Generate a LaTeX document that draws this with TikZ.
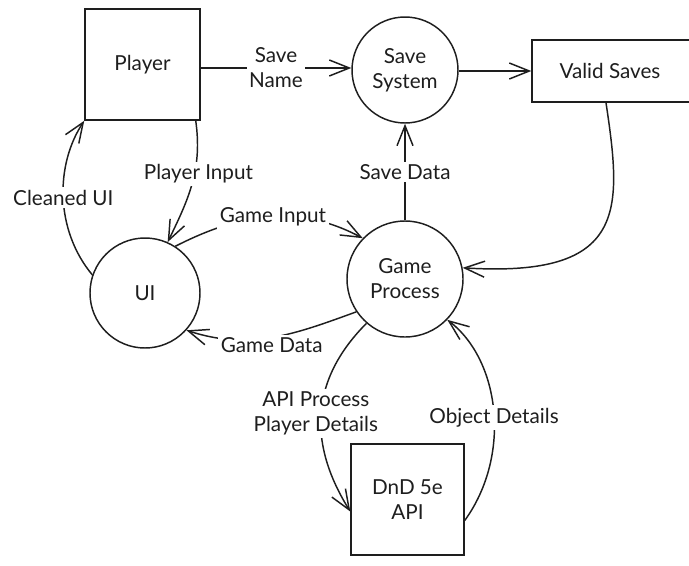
\documentclass[tikz,border=0pt]{standalone}
\usepackage{fontspec}
\setmainfont{Lato}
\usetikzlibrary{arrows.meta,calc}
\definecolor{ink}{HTML}{1E1E1E}
\def\lw{1.1pt}

\tikzset{
  shp/.style={draw=ink, line width=\lw, text=ink, align=center, inner sep=0pt,
    font=\fontsize{15.5}{18.75}\selectfont},
  ent/.style={shp, rectangle},
  proc/.style={shp, circle},
  flow/.style={draw=ink, line width=\lw, -{Straight Barb[length=15pt,width=12pt,line width=\lw]}},
  lbl/.style={fill=white, text=ink, align=center, inner sep=2pt,
    font=\fontsize{15.5}{18.75}\selectfont}
}

\begin{document}
\begin{tikzpicture}[x=0.75pt,y=-0.75pt]

% page is 689 x 565 px, y runs downwards
\useasboundingbox (0,0) rectangle (689,565);

%the external entities
\node[ent, minimum width=86.25pt, minimum height=83.25pt] (player) at (142.5,64.5) {Player};
\node[ent, minimum width=123pt, minimum height=46.5pt] (valid) at (614,71) {\hspace*{-6pt}Valid Saves};
\node[ent, minimum width=84.75pt, minimum height=83.25pt] (api) at (407.5,499.5) {DnD 5e\\API};

%the processes
\node[proc, minimum size=79.5pt] (savesys) at (405,70) {Save\\System};
\node[proc, minimum size=82.5pt] (ui) at (145,293) {UI};
\node[proc, minimum size=87pt] (game) at (405,279) {Game\\Process};

%save path
\draw[flow] (player.east |- 0,68) -- node[lbl] {Save\\Name} (savesys.west |- 0,68);
\draw[flow] (savesys.east |- 0,71) -- (valid.west |- 0,71);
\draw[flow] ($(valid.south)+(-8,0)$) .. controls (622,210) and (628,278) .. (game.11);
\draw[flow] (game.north) -- node[lbl] {Save Data} (savesys.south);

%player and ui
\draw[flow] ($(player.south east)+(-5,0)$) to[out=-82,in=64] node[lbl, pos=0.42, xshift=3pt] {Player Input} (ui.66);
\draw[flow] (ui.161) .. controls (55,230) and (55,165) .. node[lbl] {Cleaned UI} (player.south west);

%ui and game
\draw[flow] (ui.57) to[out=27,in=152] node[lbl, pos=0.52] {Game Input} (game.136);
\draw[flow] (game.214) to[out=200,in=-18] node[lbl, pos=0.5, yshift=-6pt] {Game Data} (ui.-42);

%game and api
\draw[flow] (game.229) .. controls (305,385) and (312,450) .. node[lbl, pos=0.48, xshift=-4pt] {API Process\\Player Details} ($(api.west)+(0,12)$);
\draw[flow] ($(api.east)+(0,21)$) .. controls (512,455) and (500,360) .. node[lbl, pos=0.47] {Object Details} (game.-44);

\end{tikzpicture}
\end{document}
